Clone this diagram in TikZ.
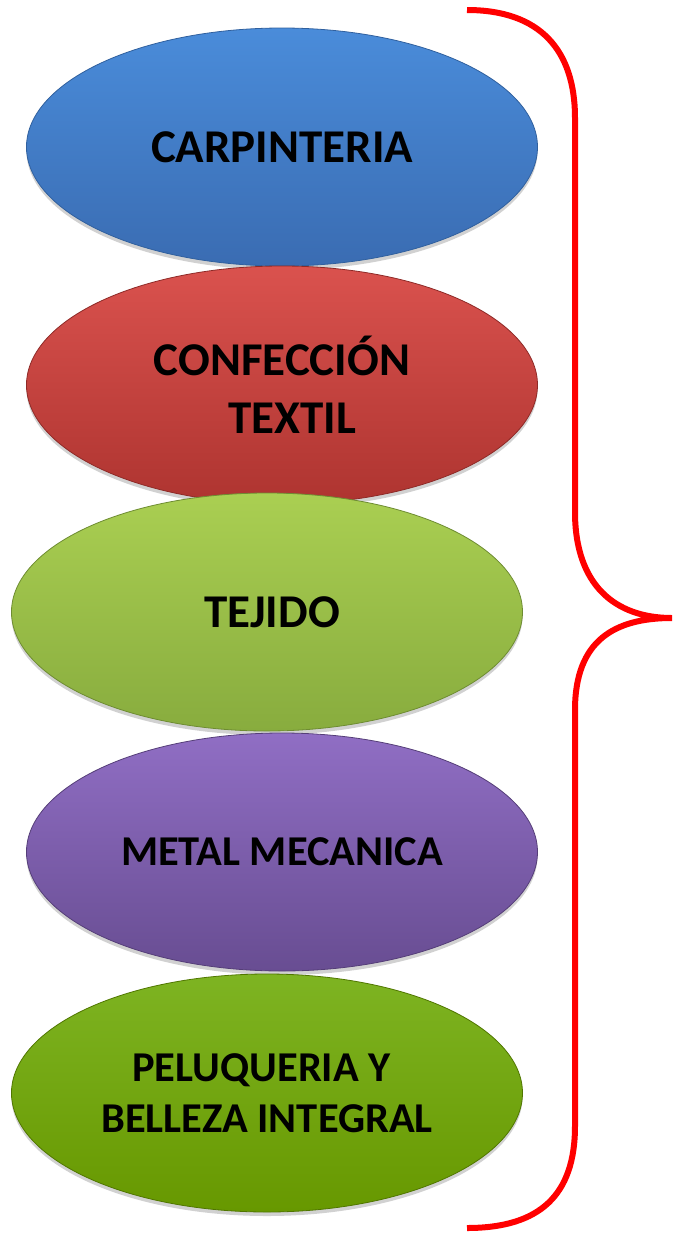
\documentclass[tikz,border=0pt]{standalone}
\usepackage{fontspec}
\setmainfont{Carlito}
\usetikzlibrary{shapes.geometric,shadows}
\definecolor{blueT}{HTML}{4A8CDA}
\definecolor{blueB}{HTML}{3A6CB2}
\definecolor{blueD}{HTML}{30609E}
\definecolor{redT}{HTML}{DA524E}
\definecolor{redB}{HTML}{AE3430}
\definecolor{redD}{HTML}{8E2A27}
\definecolor{lgT}{HTML}{AACF52}
\definecolor{lgB}{HTML}{88AC3E}
\definecolor{lgD}{HTML}{6E8C32}
\definecolor{puT}{HTML}{906EC4}
\definecolor{puB}{HTML}{684D92}
\definecolor{puD}{HTML}{553E78}
\definecolor{dgT}{HTML}{7EB422}
\definecolor{dgB}{HTML}{679800}
\definecolor{dgD}{HTML}{507600}
\begin{document}
\begin{tikzpicture}[x=1pt,y=-1pt,
  oval/.style={ellipse, minimum width=511pt, minimum height=238pt, inner sep=0pt,
    align=center, line width=0.8pt,
    drop shadow={shadow xshift=0pt, shadow yshift=-4pt, opacity=0.18, fill=black}},
  bigtxt/.style={font=\bfseries\fontsize{47}{58}\selectfont},
  smalltxt/.style={font=\bfseries\fontsize{42.5}{51}\selectfont},
  bracestyle/.style={draw=red, line width=6pt, line cap=butt}]
\useasboundingbox (0,0) rectangle (673,1235);
\node[oval, bigtxt, draw=blueD, top color=blueT, bottom color=blueB] (carp) at (282,147) {CARPINTERIA};
\node[oval, bigtxt, draw=redD, top color=redT, bottom color=redB] (conf) at (282,385) {CONFECCIÓN\\\kern20pt TEXTIL};
\node[oval, bigtxt, draw=lgD, top color=lgT, bottom color=lgB] (teji) at (267,612) {\kern10pt TEJIDO};
\node[oval, smalltxt, draw=puD, top color=puT, bottom color=puB] (meta) at (282,852) {METAL MECANICA};
\node[oval, smalltxt, draw=dgD, top color=dgT, bottom color=dgB] (pelu) at (267,1093) {PELUQUERIA Y\kern11pt\\BELLEZA INTEGRAL};
\coordinate (btop) at (467,10);
\coordinate (bup) at (575,118);
\coordinate (bmidup) at (575,512);
\coordinate (btip) at (672,618);
\coordinate (bmiddn) at (575,710);
\coordinate (bdn) at (575,1126);
\coordinate (bbot) at (467,1228);
\draw[bracestyle] (btop) .. controls (540,10) and (575,50) .. (bup)
  -- (bmidup) .. controls (575,585) and (615,618) .. (btip)
  .. controls (615,618) and (575,640) .. (bmiddn)
  -- (bdn) .. controls (575,1195) and (540,1228) .. (bbot);
\end{tikzpicture}
\end{document}
